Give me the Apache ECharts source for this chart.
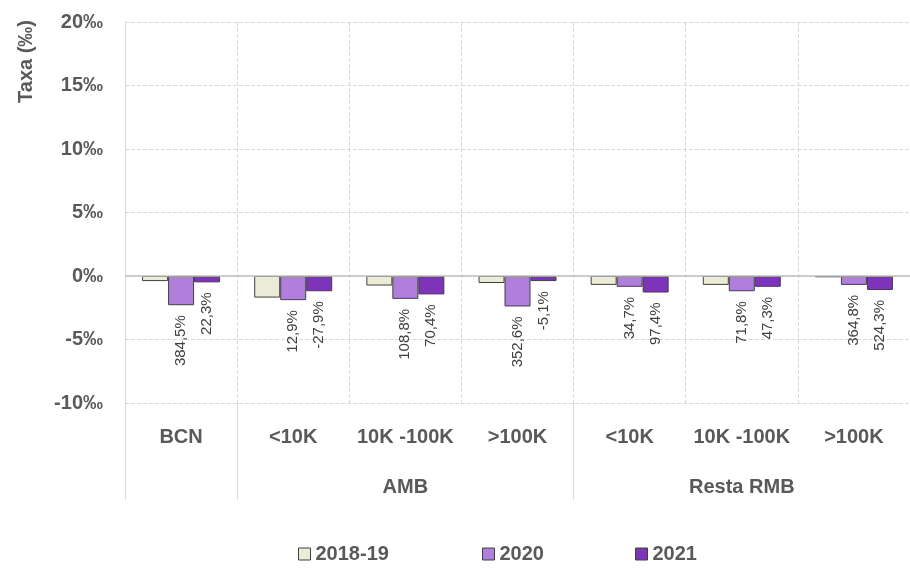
<!DOCTYPE html>
<html>
<head>
<meta charset="utf-8">
<script src="https://cdn.jsdelivr.net/npm/echarts@6/dist/echarts.min.js"></script>
<style>
  html, body { margin: 0; padding: 0; background: #fff; }
  #main { width: 910px; height: 572px; }
</style>
</head>
<body>
<div id="main"></div>
<script>
// categories and group labels
const categories = ['BCN', '<10K', '10K -100K', '>100K', '<10K', '10K -100K', '>100K'];
const groups = ['', '', 'AMB', '', '', 'Resta RMB', ''];
const seriesNames = ['2018-19', '2020', '2021'];

// values in ‰
const v2018 = [-0.4, -1.7, -0.75, -0.55, -0.7, -0.7, -0.1];
const v2020 = [-2.3, -1.9, -1.8, -2.4, -0.85, -1.2, -0.7];
const v2021 = [-0.5, -1.2, -1.45, -0.4, -1.3, -0.85, -1.1];

// variation labels
const lab2020 = ['384,5%', '12,9%', '108,8%', '352,6%', '34,7%', '71,8%', '364,8%'];
const lab2021 = ['22,3%', '-27,9%', '70,4%', '-5,1%', '97,4%', '47,3%', '524,3%'];

const yTicks = [-10, -5, 0, 5, 10, 15, 20];

const font = "'Liberation Sans Narrow', 'Liberation Sans', sans-serif";
const txt = '#595959';

const chart = echarts.init(document.getElementById('main'), null, { renderer: 'canvas' });

function barLabel(labels) {
  return {
    show: true,
    position: 'bottom',
    rotate: 90,
    align: 'right',
    verticalAlign: 'middle',
    distance: 10,
    fontFamily: font,
    fontSize: 15,
    color: '#404040',
    formatter: p => labels[p.dataIndex]
  };
}

// one legend per series so each item sits where it does in the reference
const legendLefts = [298, 482, 635];
const legends = seriesNames.map((name, i) => ({
  left: legendLefts[i],
  top: 544,
  padding: 0,
  itemWidth: 12,
  itemHeight: 12,
  icon: 'rect',
  data: [name],
  textStyle: { fontFamily: font, fontSize: 20, fontWeight: 'bold', color: txt },
  itemStyle: { borderColor: '#404040', borderWidth: 1 }
}));

const option = {
  backgroundColor: '#fff',
  animation: false,
  grid: { left: 125, top: 22, width: 787, bottom: 169, containLabel: false },
  legend: legends,
  graphic: [{
    type: 'text',
    x: 26,
    y: 20,
    rotation: Math.PI / 2,
    style: {
      text: 'Taxa (‰)',
      align: 'right',
      verticalAlign: 'middle',
      fontFamily: font,
      fontSize: 20,
      fontWeight: 'bold',
      fill: txt
    }
  }],
  xAxis: [{
    type: 'category',
    data: categories,
    position: 'bottom',
    axisLine: { show: false, onZero: false },
    axisTick: {
      show: true,
      length: 97,
      interval: (i) => i === 0 || i === 1 || i === 4,
      lineStyle: { color: '#d9d9d9', width: 1 }
    },
    axisLabel: {
      interval: 0,
      margin: 24,
      fontFamily: font,
      fontSize: 20,
      fontWeight: 'bold',
      color: txt
    },
    splitLine: { show: true, lineStyle: { color: '#d9d9d9', type: 'dashed', width: 1 } }
  }, {
    type: 'category',
    data: groups,
    position: 'bottom',
    offset: 50,
    axisLine: { show: false, onZero: false },
    axisTick: { show: false },
    axisLabel: {
      interval: 0,
      margin: 24,
      fontFamily: font,
      fontSize: 20,
      fontWeight: 'bold',
      color: txt
    }
  }],
  yAxis: {
    type: 'value',
    min: -10,
    max: 20,
    interval: 5,
    axisLine: { show: true, lineStyle: { color: '#d9d9d9' } },
    axisTick: { show: false },
    axisLabel: {
      margin: 22,
      fontFamily: font,
      fontSize: 20,
      fontWeight: 'bold',
      color: txt,
      formatter: v => yTicks.includes(v) ? v + '‰' : ''
    },
    splitLine: { show: true, lineStyle: { color: '#d9d9d9', type: 'dashed', width: 1 } }
  },
  series: [{
    name: '2018-19',
    type: 'bar',
    data: v2018,
    barWidth: 26,
    barGap: '0%',
    itemStyle: { color: '#ebebd6', borderColor: '#404040', borderWidth: 1 },
    markLine: {
      silent: true,
      symbol: 'none',
      label: { show: false },
      lineStyle: { color: '#bfbfbf', type: 'solid', width: 1.5 },
      data: [{ yAxis: 0 }]
    }
  }, {
    name: '2020',
    type: 'bar',
    data: v2020,
    barWidth: 26,
    barGap: '0%',
    itemStyle: { color: '#b07fdc', borderColor: '#404040', borderWidth: 1 },
    label: barLabel(lab2020)
  }, {
    name: '2021',
    type: 'bar',
    data: v2021,
    barWidth: 26,
    barGap: '0%',
    itemStyle: { color: '#7e34b8', borderColor: '#404040', borderWidth: 1 },
    label: barLabel(lab2021)
  }]
};

chart.setOption(option);
</script>
</body>
</html>
